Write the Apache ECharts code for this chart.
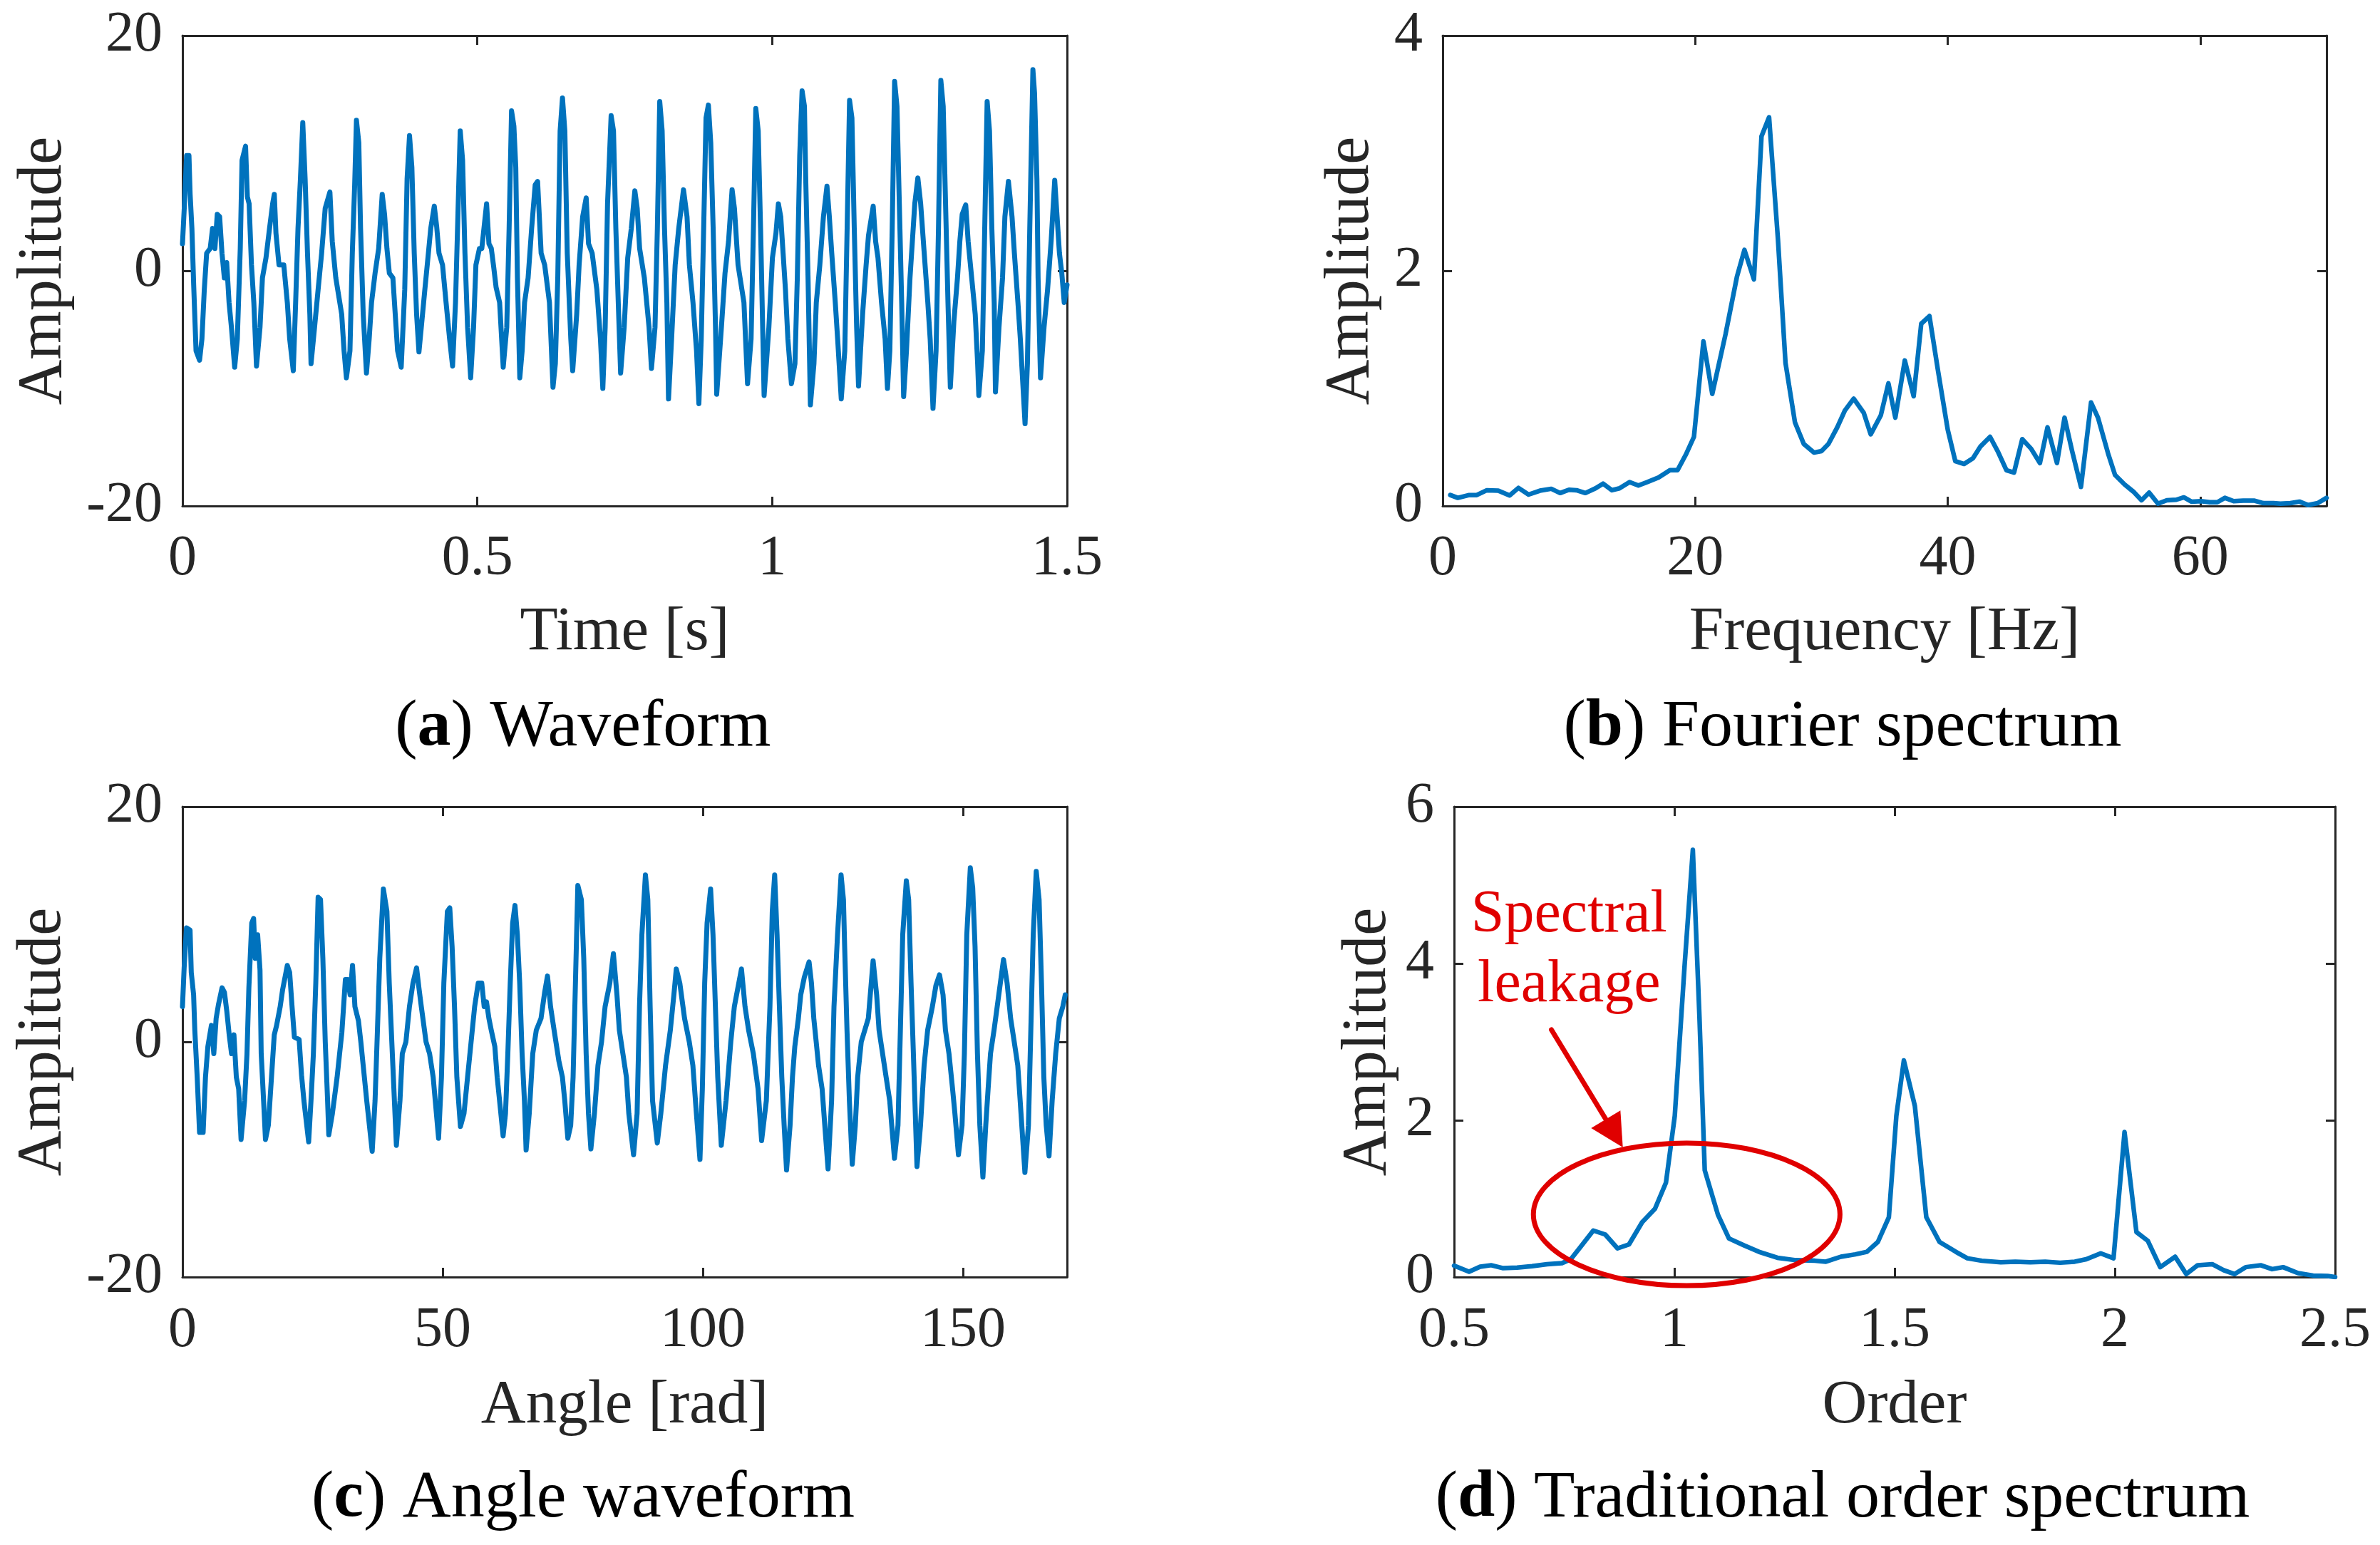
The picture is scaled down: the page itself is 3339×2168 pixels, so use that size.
<!DOCTYPE html>
<html>
<head>
<meta charset="utf-8">
<script src="https://cdn.jsdelivr.net/npm/echarts@6/dist/echarts.min.js"></script>
<style>
html,body{margin:0;padding:0;background:#fff;}
#main{width:3339px;height:2168px;}
</style>
</head>
<body>
<div id="main"></div>
<script>
// ---------- DATA ----------
// (a) Waveform: [time s, amplitude]
const waveform = [[0,2.3],[0.003,5.3],[0.007,9.8],[0.011,9.8],[0.013,6.5],[0.016,3.6],[0.019,-1.2],[0.023,-6.8],[0.029,-7.6],[0.033,-5.8],[0.037,-1.6],[0.041,1.5],[0.047,1.9],[0.051,3.6],[0.055,1.9],[0.059,4.8],[0.063,4.6],[0.067,1.5],[0.071,-0.6],[0.075,0.7],[0.079,-2.7],[0.083,-4.8],[0.0885,-8.2],[0.093,-5.8],[0.098,1.9],[0.101,9.4],[0.107,10.6],[0.110,6.3],[0.113,5.7],[0.117,0.5],[0.121,-2.7],[0.1255,-8.1],[0.1315,-4.8],[0.1356,-0.6],[0.1416,1.1],[0.1476,3.6],[0.1529,5.7],[0.1557,6.5],[0.1585,3.2],[0.1637,0.5],[0.1718,0.5],[0.1778,-2.7],[0.1818,-5.8],[0.1879,-8.5],[0.1919,-2.7],[0.1959,3.6],[0.2,7.8],[0.204,12.6],[0.208,7.8],[0.212,1.5],[0.216,-3.7],[0.218,-7.9],[0.224,-4.8],[0.230,-1.6],[0.236,1.5],[0.242,5.3],[0.250,6.7],[0.254,2.5],[0.260,-0.6],[0.270,-3.7],[0.274,-6.8],[0.278,-9.1],[0.284,-6.8],[0.288,1.5],[0.292,7.3],[0.295,12.8],[0.299,10.9],[0.302,3.6],[0.3065,-3.7],[0.312,-8.7],[0.3166,-5.8],[0.3206,-2.7],[0.3266,-0.2],[0.3327,1.9],[0.3387,6.5],[0.3427,4.8],[0.3467,1.9],[0.3508,-0.2],[0.3568,-0.6],[0.3608,-3.7],[0.3648,-6.8],[0.3709,-8.2],[0.3769,-1.6],[0.3809,7.8],[0.385,11.5],[0.389,8.8],[0.393,1.5],[0.397,-3.7],[0.401,-6.9],[0.405,-4.8],[0.411,-1.6],[0.417,1.5],[0.421,3.6],[0.427,5.5],[0.431,3.8],[0.435,1.5],[0.441,0.5],[0.447,-2.7],[0.453,-5.8],[0.458,-8.1],[0.463,-2.7],[0.467,4.6],[0.471,11.9],[0.475,9.4],[0.479,1.5],[0.4835,-4.8],[0.4887,-9.1],[0.4936,-4.8],[0.4976,0.5],[0.5036,1.9],
[0.5076,1.9],[0.5157,5.7],[0.5197,2.3],[0.5237,1.9],[0.5278,0.3],[0.5318,-1.4],[0.5378,-2.7],[0.5439,-8.2],[0.5499,-4.8],[0.5539,3.6],[0.558,13.6],[0.562,12.3],[0.5652,8.8],[0.568,-0.6],[0.572,-9.1],[0.576,-6.8],[0.5801,-2.7],[0.5861,-0.6],[0.5921,3.6],[0.5981,7.3],[0.6022,7.6],[0.6082,1.5],[0.6142,0.5],[0.6223,-2.7],[0.6283,-9.9],[0.6323,-7.9],[0.6364,-0.6],[0.6404,11.9],[0.6444,14.7],[0.6484,11.9],[0.6525,1.5],[0.6585,-5.8],[0.6617,-8.5],[0.6685,-3.7],[0.6726,0.5],[0.6786,4.6],[0.6846,6.2],[0.6886,2.3],[0.6947,1.5],[0.7027,-1.6],[0.7088,-5.8],[0.7128,-10.0],[0.7168,-4.8],[0.7208,5.7],[0.7269,13.2],[0.7309,11.9],[0.7349,3.6],[0.739,-2.7],[0.743,-8.7],[0.749,-4.8],[0.755,1.1],[0.7611,3.6],[0.7671,6.8],[0.7711,5.3],[0.7752,1.9],[0.7832,-0.6],[0.7912,-4.8],[0.7953,-8.3],[0.8013,-4.8],[0.8053,3.6],[0.8093,14.4],[0.8134,11.9],[0.8174,3.6],[0.8214,-2.7],[0.8242,-10.9],[0.8294,-5.8],[0.8355,0.5],[0.8415,3.6],[0.8496,6.9],[0.8556,4.6],[0.8596,0.5],[0.8657,-2.7],[0.8717,-6.8],[0.8757,-11.3],[0.8797,-5.8],[0.8838,3.6],[0.8878,13.0],[0.8918,14.1],[0.8958,10.9],[0.8999,3.6],[0.9039,-4.8],[0.9059,-10.5],[0.9139,-4.8],[0.92,-0.2],[0.926,2.5],[0.932,6.9],[0.936,5.3],[0.9421,0.5],[0.9521,-2.7],[0.9582,-9.6],[0.9642,-5.8],[0.9682,3.6],[0.9722,13.8],[0.9763,11.9],[0.9803,3.6],[0.9843,-5.8],[0.9863,-10.6],[0.9944,-4.8],[1.0004,1.1],
[1.0064,3.2],[1.0105,5.7],[1.0145,4.6],[1.0185,1.5],[1.0225,-1.6],[1.0266,-5.8],[1.0326,-9.6],[1.0386,-7.9],[1.0426,-0.6],[1.0467,9.8],[1.0507,15.3],[1.0547,14.0],[1.0567,8.2],[1.0608,-0.6],[1.0648,-11.4],[1.0708,-7.9],[1.0748,-2.7],[1.0808,0.5],[1.0869,4.6],[1.0929,7.2],[1.0969,4.6],[1.101,1.5],[1.107,-2.7],[1.111,-5.8],[1.1171,-10.9],[1.1231,-6.8],[1.1271,3.6],[1.1312,14.5],[1.1352,13.0],[1.1392,3.6],[1.1432,-4.8],[1.1464,-9.8],[1.1533,-3.7],[1.1593,0.5],[1.1633,3.0],[1.1713,5.5],[1.1754,2.5],[1.1794,1.1],[1.1854,-2.7],[1.1915,-5.8],[1.1955,-10.0],[1.1995,-6.8],[1.2035,3.6],[1.2076,16.1],[1.2116,14.0],[1.2156,5.7],[1.2196,-2.7],[1.2229,-10.7],[1.2277,-6.8],[1.2337,-0.6],[1.2377,2.5],[1.2418,5.7],[1.247,7.9],[1.2518,5.7],[1.2578,1.5],[1.2639,-2.7],[1.2679,-5.8],[1.2727,-11.7],[1.2779,-6.8],[1.282,3.6],[1.286,16.2],[1.29,14.0],[1.294,5.7],[1.2981,-2.7],[1.3021,-9.9],[1.3081,-4.3],[1.3142,-0.6],[1.3182,2.5],[1.3222,4.8],[1.3282,5.6],[1.3323,2.5],[1.3383,-0.6],[1.3443,-3.7],[1.3484,-7.9],[1.3504,-10.6],[1.3564,-6.8],[1.3604,3.6],[1.3645,14.4],[1.3685,11.9],[1.3725,3.6],[1.3765,-2.7],[1.3786,-10.3],[1.3846,-4.8],[1.3906,-0.6],[1.3946,4.6],[1.4006,7.6],[1.4067,4.6],[1.4107,1.5],[1.4167,-2.7],[1.4208,-5.8],[1.4288,-13.0],[1.4328,-7.9],[1.4368,3.6],[1.4421,17.1],[1.4449,15.1],[1.4489,7.8],[1.4509,-0.6],[1.455,-9.1],[1.461,-4.8],[1.467,-1.6],[1.473,2.5],[1.4791,7.7],[1.4831,4.6],[1.4871,1.5],[1.4911,-0.2],[1.4952,-2.7],[1.5,-1.2]];

// (b) Fourier spectrum: [frequency Hz, amplitude]
const fourierSpectrum = [[0.6,0.093],[1.2,0.069],[2.1,0.093],[2.7,0.093],[3.5,0.134],[4.4,0.13],[5.3,0.089],[6.0,0.154],[6.8,0.097],[7.7,0.13],[8.6,0.146],[9.3,0.11],[10.0,0.138],[10.6,0.134],[11.3,0.11],[12.1,0.15],[12.7,0.19],[13.4,0.134],[14.0,0.15],[14.8,0.203],[15.5,0.174],[16.2,0.203],[17.1,0.243],[18.0,0.304],[18.6,0.304],[19.3,0.446],[19.9,0.588],[20.65,1.40],[21.35,0.953],[22.4,1.46],[23.3,1.947],[23.9,2.178],[24.65,1.927],[25.25,3.144],[25.85,3.306],[26.55,2.272],[27.15,1.217],[27.9,0.71],[28.6,0.527],[29.4,0.454],[30.0,0.467],[30.55,0.527],[31.25,0.669],[31.85,0.811],[32.55,0.913],[33.35,0.791],[33.9,0.609],[34.7,0.771],[35.3,1.043],[35.85,0.751],[36.6,1.237],[37.3,0.933],[37.9,1.55],[38.55,1.615],[39.25,1.136],[40.0,0.649],[40.6,0.381],[41.3,0.357],[42.0,0.406],[42.6,0.507],[43.35,0.588],[43.95,0.467],[44.65,0.304],[45.25,0.284],[45.9,0.568],[46.6,0.487],[47.3,0.365],[47.9,0.669],[48.65,0.365],[49.25,0.751],[49.85,0.467],[50.55,0.162],[51.35,0.88],[51.9,0.751],[52.7,0.446],[53.25,0.264],[54.0,0.183],[54.7,0.122],[55.35,0.049],[55.95,0.114],[56.65,0.02],[57.35,0.049],[58.1,0.053],[58.7,0.073],[59.3,0.037],[60.05,0.041],[60.75,0.032],[61.35,0.032],[61.95,0.069],[62.65,0.041],[63.4,0.045],[64.3,0.045],[65.0,0.024],[65.8,0.024],[66.35,0.02],[67.15,0.024],[67.85,0.037],[68.55,0.008],[69.3,0.024],[70.0,0.069]];

// (c) Angle waveform: [angle rad, amplitude]
const angleWaveform = [[0,3.0],[0.32,6.3],[0.77,9.7],[1.46,9.5],[1.69,5.9],[2.14,4.0],[2.37,1.0],[2.83,-3.0],[3.28,-7.7],[3.97,-7.7],[4.42,-3.0],[4.88,-0.4],[5.56,1.4],[6.02,-1.0],[6.47,2.0],[6.93,3.2],[7.61,4.6],[8.07,4.2],[8.52,2.6],[8.98,0.6],[9.43,-1.0],[9.89,0.6],[10.35,-3.0],[10.8,-4.0],[11.26,-8.3],[11.94,-5.0],[12.4,-1.0],[12.76,4.6],[13.31,10.1],[13.67,10.5],[13.99,7.1],[14.45,9.1],[14.9,6.1],[15.13,-1.0],[15.59,-5.0],[15.95,-8.3],[16.5,-7.1],[16.96,-4.0],[17.64,0.6],[18.09,1.4],[18.78,3.0],[19.23,4.4],[20.15,6.5],[20.6,5.9],[21.06,3.0],[21.51,0.4],[22.42,0.2],[22.88,-2.8],[23.34,-5.0],[24.25,-8.5],[24.7,-5.0],[25.16,-1.0],[25.62,5.0],[26.07,12.3],[26.53,12.1],[26.98,7.1],[27.44,0],[27.89,-5.0],[28.12,-7.9],[28.81,-6.1],[29.72,-3.0],[30.63,0.8],[31.31,5.3],[31.77,5.3],[32.22,4.0],[32.68,6.5],[33.14,3.0],[33.82,1.8],[34.28,0],[34.73,-2.0],[35.41,-5.0],[36.46,-9.3],[37.01,-5.0],[37.47,1.0],[37.92,7.1],[38.61,13.0],[39.29,11.1],[39.74,5.0],[40.43,-2.0],[41.11,-8.8],[41.8,-5.0],[42.25,-1.0],[42.94,0],[43.62,3.0],[44.3,5.0],[44.99,6.3],[45.44,4.6],[45.9,3.0],[46.81,0],[47.49,-1.0],[48.18,-3.0],[49.22,-8.2],[49.77,-3.0],[50.23,5.0],[50.91,11.1],[51.37,11.4],[51.82,8.1],[52.28,3.0],[52.73,-3.0],[53.42,-7.2],[54.1,-6.1],[54.79,-3.0],[55.47,0],[56.15,3.0],[56.84,5.0],
[57.52,5.0],[57.98,3.0],[58.43,3.4],[58.89,2.0],[59.34,1.0],[60.03,-0.4],[60.48,-3.0],[60.94,-5.0],[61.62,-8.0],[62.08,-6.1],[62.53,-1.0],[62.99,5.0],[63.45,10.1],[63.9,11.6],[64.36,9.1],[64.81,5.0],[65.27,-1.0],[65.72,-5.0],[66.04,-9.2],[66.64,-6.1],[67.32,-1.0],[68.0,1.0],[68.91,2.0],[69.6,4.2],[70.15,5.6],[70.74,3.0],[71.42,1.0],[72.33,-1.6],[73.02,-3.0],[73.47,-5.0],[74.06,-8.2],[74.61,-7.1],[75.07,-3.0],[75.52,5.0],[75.98,13.3],[76.66,12.1],[77.12,7.1],[77.58,-1.0],[78.03,-6.1],[78.49,-9.1],[79.17,-6.1],[79.85,-2.0],[80.54,0],[81.22,3.0],[82.13,5.0],[82.82,7.5],[83.5,4.0],[83.96,1.0],[84.64,-1.0],[85.32,-3.0],[85.78,-6.1],[86.69,-9.6],[87.37,-6.1],[87.83,3.0],[88.29,9.1],[88.97,14.2],[89.43,12.1],[89.88,3.0],[90.34,-5.0],[91.25,-8.6],[91.93,-6.1],[92.84,-2.0],[93.76,1.0],[94.44,4.0],[94.9,6.2],[95.58,5.0],[96.49,2.0],[97.4,0],[98.09,-2.0],[98.77,-6.1],[99.45,-10.0],[99.91,-4.0],[100.36,5.0],[100.82,10.1],[101.5,13.0],[101.96,9.1],[102.42,3.0],[102.87,-3.0],[103.55,-8.8],[104.47,-5.0],[105.38,0],[106.06,3.0],[107.43,6.2],[108.11,3.0],[108.8,1.0],[109.71,-1.0],[110.62,-4.0],[111.3,-8.4],[112.21,-5.0],[112.9,3.0],[113.35,11.1],[113.81,14.2],
[114.27,9.1],[114.72,3.0],[115.18,-3.0],[115.63,-7.1],[116.09,-10.9],[116.77,-7.1],[117.23,-3.0],[117.68,-0.4],[118.37,2.0],[118.82,4.0],[119.51,5.5],[120.42,6.8],[120.88,5.0],[121.33,2.0],[121.79,0],[122.24,-2.0],[122.93,-4.0],[123.61,-8.1],[124.07,-10.8],[124.75,-5.0],[125.21,3.0],[125.89,9.1],[126.57,14.2],[127.03,12.1],[127.26,8.1],[127.71,1.0],[128.17,-5.0],[128.72,-10.4],[129.31,-7.1],[129.76,-3.0],[130.45,0],[131.13,1.0],[131.81,2.0],[132.73,6.9],[133.41,4.0],[133.87,1.0],[134.55,-1.0],[135.23,-3.0],[135.92,-5.0],[136.83,-9.9],[137.51,-7.1],[137.97,1.0],[138.42,9.1],[139.11,13.7],[139.56,12.1],[140.02,5.0],[140.47,-1.0],[141.16,-10.6],[141.84,-7.1],[142.53,-2.0],[143.21,1.0],[144.12,3.0],[144.8,4.8],[145.49,5.7],[146.17,4.0],[146.63,1.0],[147.31,-1.0],[148.0,-4.0],[148.45,-6.1],[149.13,-9.6],[149.82,-7.1],[150.27,-1.0],[150.73,9.1],[151.41,14.8],[151.87,13.1],[152.32,8.1],[152.78,-1.0],[153.24,-7.1],[153.83,-11.5],[154.38,-7.1],[154.83,-4.0],[155.29,-1.0],[155.97,1.0],[156.88,4.0],[157.79,7.0],[158.48,5.0],[159.16,2.0],[159.85,0],[160.53,-2.0],[160.99,-5.0],[161.9,-11.1],[162.58,-7.1],[163.04,1.0],[163.5,9.1],[164.08,14.5],[164.63,12.1],[165.09,5.0],[165.54,-3.0],[166.0,-7.1],[166.54,-9.7],[167.14,-5.0],[167.82,-1.0],[168.51,2.0],[169.19,3.0],[169.65,4.0]];

// (d) Traditional order spectrum: [order, amplitude]
const orderSpectrum = [[0.5,0.145],[0.534,0.069],[0.559,0.132],[0.584,0.151],[0.61,0.114],[0.643,0.12],[0.677,0.139],[0.711,0.164],[0.745,0.177],[0.765,0.227],[0.787,0.385],[0.816,0.593],[0.843,0.543],[0.871,0.366],[0.897,0.416],[0.927,0.7],[0.956,0.871],[0.981,1.205],[1.001,2.057],[1.023,3.95],[1.042,5.451],[1.057,3.319],[1.069,1.363],[1.099,0.795],[1.124,0.492],[1.158,0.404],[1.192,0.322],[1.234,0.246],[1.276,0.215],[1.319,0.208],[1.344,0.196],[1.378,0.259],[1.411,0.29],[1.437,0.322],[1.462,0.448],[1.487,0.763],[1.504,2.057],[1.521,2.763],[1.546,2.183],[1.572,0.763],[1.602,0.448],[1.639,0.322],[1.665,0.24],[1.698,0.208],[1.741,0.189],[1.774,0.196],[1.808,0.189],[1.842,0.196],[1.876,0.183],[1.909,0.196],[1.935,0.227],[1.968,0.303],[1.997,0.24],[2.022,1.849],[2.049,0.574],[2.075,0.461],[2.103,0.126],[2.137,0.259],[2.162,0.038],[2.188,0.151],[2.221,0.164],[2.247,0.088],[2.272,0.038],[2.297,0.126],[2.331,0.151],[2.357,0.101],[2.382,0.126],[2.416,0.05],[2.45,0.019],[2.483,0.013],[2.5,0.0]];

// Axis ranges / ticks
const xRanges = [[0,1.5,0.5],[0,70,20],[0,170,50],[0.5,2.5,0.5]];
const yRanges = [[-20,20,20],[0,4,2],[-20,20,20],[0,6,2]];
const xNames = ['Time [s]','Frequency [Hz]','Angle [rad]','Order'];
const yNames = ['Amplitude','Amplitude','Amplitude','Amplitude'];
const panelLetters = ['a','b','c','d'];
const panelTitles = ['Waveform','Fourier spectrum','Angle waveform','Traditional order spectrum'];

// Annotation (data coordinates of panel d)
const annotationText = ['Spectral','leakage'];
const annotationTextPos = [[0.761,4.61],[0.761,3.72]];
const leakageEllipse = {cx:1.028, cy:0.80, rx:0.348, ry:0.91};
const leakageArrow = {from:[0.721,3.155], to:[0.883,1.655]};

// ---------- LAYOUT / STYLE ----------
const FONT = 'Liberation Serif';
const AXC = '#262626';
const BLUE = '#0072BD';
const RED = '#E00000';
const grids = [
  {left:256, top:50, width:1241, height:660},
  {left:2024, top:50, width:1240, height:660},
  {left:256, top:1132, width:1241, height:660},
  {left:2040, top:1132, width:1236, height:660}
];
const yNameGap = [150, 84, 151, 76];
const xNameGap = [135, 135, 138, 138];
const xLabelMargin = [35, 35, 36, 36];
const hideMaxX = [false, true, true, false];
const titleCenters = [[818,1021],[2585,1021],[818,2103],[2585,2103]];
const lineWidths = [7, 6.5, 7, 6.5];
const seriesData = [waveform, fourierSpectrum, angleWaveform, orderSpectrum];

const lineStyle = {color: AXC, width: 3};
const xAxis = [], yAxis = [], series = [], graphic = [];
for (let g = 0; g < 4; g++) {
  const [x0, x1, xi] = xRanges[g];
  const [y0, y1, yi] = yRanges[g];
  const common = {type:'value', gridIndex:g, splitLine:{show:false}, axisLine:{show:true, onZero:false, lineStyle}, axisTick:{show:true, inside:true, length:13, lineStyle}};
  xAxis.push(Object.assign({}, common, {
    position:'bottom', min:x0, max:x1, interval:xi,
    name:xNames[g], nameLocation:'middle', nameGap:xNameGap[g],
    nameTextStyle:{fontFamily:FONT, fontSize:87, color:AXC},
    axisLabel:{show:true, margin:xLabelMargin[g], fontFamily:FONT, fontSize:80, color:AXC, showMaxLabel: hideMaxX[g] ? false : true, showMinLabel:true}
  }));
  xAxis.push(Object.assign({}, common, {
    position:'top', min:x0, max:x1, interval:xi, axisLabel:{show:false}
  }));
  yAxis.push(Object.assign({}, common, {
    position:'left', min:y0, max:y1, interval:yi,
    name:yNames[g], nameLocation:'middle', nameGap:yNameGap[g], nameRotate:90,
    nameTextStyle:{fontFamily:FONT, fontSize:88, color:AXC},
    axisLabel:{show:true, margin:28, fontFamily:FONT, fontSize:80, color:AXC, showMaxLabel:true, showMinLabel:true}
  }));
  yAxis.push(Object.assign({}, common, {
    position:'right', min:y0, max:y1, interval:yi, axisLabel:{show:false}
  }));
  series.push({
    type:'line', xAxisIndex:2*g, yAxisIndex:2*g, data:seriesData[g],
    showSymbol:false, symbol:'none', clip:true, animation:false,
    lineStyle:{color:BLUE, width:lineWidths[g], join:'round', cap:'round'}
  });
  graphic.push({
    type:'text', x:titleCenters[g][0], y:titleCenters[g][1], z:100,
    style:{
      text:'({b|' + panelLetters[g] + '}) ' + panelTitles[g],
      font:'94px "' + FONT + '"', fill:'#000',
      align:'center', verticalAlign:'middle', textAlign:'center', textVerticalAlign:'middle',
      rich:{b:{fontWeight:'bold', fontSize:94, fontFamily:FONT, fill:'#000', color:'#000'}}
    }
  });
}

const chart = echarts.init(document.getElementById('main'), null, {renderer:'canvas', width:3339, height:2168});
chart.setOption({
  animation:false,
  backgroundColor:'#ffffff',
  grid: grids.map(g => Object.assign({outerBoundsMode:'none', containLabel:false}, g)),
  xAxis, yAxis, series, graphic
});

// ---------- annotation in panel (d), placed from data coordinates ----------
const toPx = p => chart.convertToPixel({gridIndex:3}, p);
const ann = [];
annotationText.forEach((t, i) => {
  const p = toPx(annotationTextPos[i]);
  ann.push({type:'text', x:p[0], y:p[1], z:100, style:{text:t, font:'84px "' + FONT + '"', fill:RED,
    align:'center', verticalAlign:'middle', textAlign:'center', textVerticalAlign:'middle'}});
});
const c = toPx([leakageEllipse.cx, leakageEllipse.cy]);
const ex = toPx([leakageEllipse.cx + leakageEllipse.rx, leakageEllipse.cy]);
const ey = toPx([leakageEllipse.cx, leakageEllipse.cy + leakageEllipse.ry]);
ann.push({type:'ellipse', z:100, shape:{cx:c[0], cy:c[1], rx:ex[0]-c[0], ry:c[1]-ey[1]},
  style:{fill:'none', stroke:RED, lineWidth:7}});
const s = toPx(leakageArrow.from), t = toPx(leakageArrow.to);
const dx = t[0]-s[0], dy = t[1]-s[1], L = Math.hypot(dx, dy);
const ux = dx/L, uy = dy/L, headLen = 46, headHalf = 24;
const bx = t[0]-ux*headLen, by = t[1]-uy*headLen;
ann.push({type:'line', z:100, shape:{x1:s[0], y1:s[1], x2:bx+ux*4, y2:by+uy*4},
  style:{stroke:RED, lineWidth:7, lineCap:'round'}});
ann.push({type:'polygon', z:100, shape:{points:[[t[0],t[1]],[bx-uy*headHalf, by+ux*headHalf],[bx+uy*headHalf, by-ux*headHalf]]},
  style:{fill:RED, stroke:'none'}});
chart.setOption({graphic: graphic.concat(ann)});
</script>
</body>
</html>
